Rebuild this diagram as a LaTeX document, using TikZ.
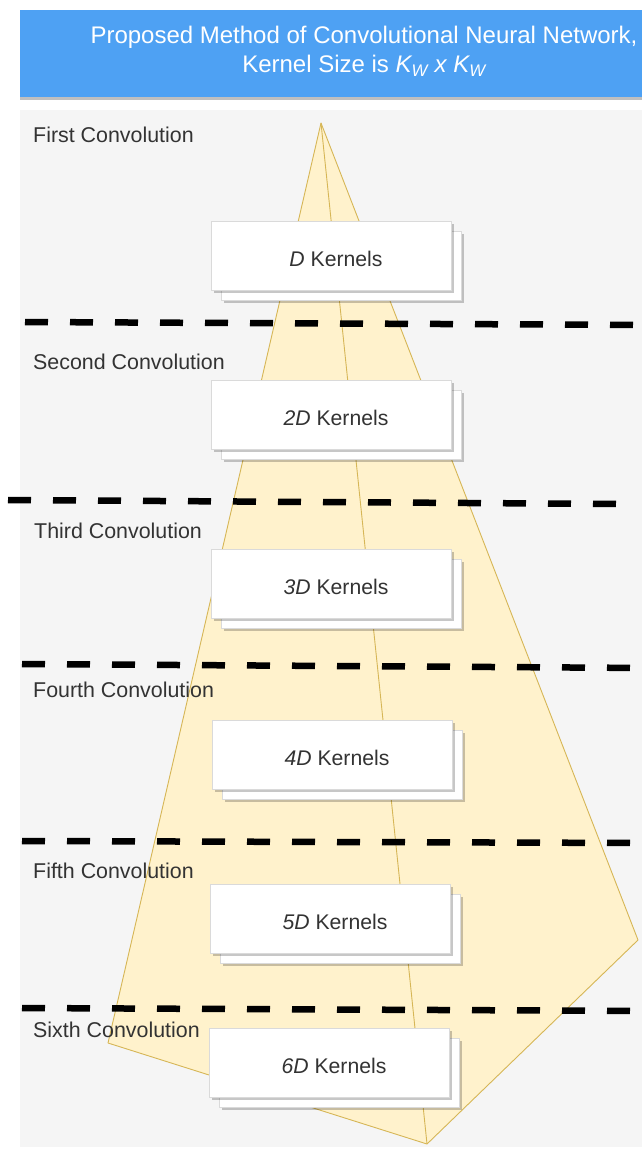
\documentclass[tikz,border=0pt]{standalone}
\usepackage{fontspec}
\setmainfont{Liberation Sans}
\definecolor{headerblue}{HTML}{4EA1F3}
\definecolor{panelgray}{HTML}{F5F5F5}
\definecolor{pyrfill}{HTML}{FFF2CC}
\definecolor{pyrline}{HTML}{D6B656}
\definecolor{textgray}{HTML}{333333}
\definecolor{boxedge}{HTML}{DADADA}
\newcommand{\kernelstack}[4]{%
  \fill[boxshadow] (#2+13,#3+13) rectangle ++(240,69);
  \node[kbox, anchor=north west] (#1back) at (#2+10,#3+10) {};
  \fill[boxshadow] (#2+3,#3+3) rectangle ++(240,69);
  \node[kbox, anchor=north west] (#1) at (#2,#3) {};
  \node[ktext] (#1label) at (#2+125,#3+37.5) {#4};
}
\begin{document}
\begin{tikzpicture}[x=1pt,y=-1pt,
  kbox/.style={draw=boxedge, fill=white, line width=0.8pt, minimum width=240pt, minimum height=69pt, inner sep=0pt},
  boxshadow/.style={fill=black, opacity=0.22},
  ktext/.style={text=textgray, font=\fontsize{21.2}{25}\selectfont, inner sep=0pt},
  convlabel/.style={text=textgray, font=\fontsize{21.4}{25}\selectfont, anchor=west, inner sep=0pt},
  sepline/.style={black, line width=6.5pt, dash pattern=on 23pt off 22pt},
  pyr/.style={fill=pyrfill, draw=pyrline, line width=0.9pt, line join=round},
]
\useasboundingbox (0,0) rectangle (641,1149);

% header band
\fill[black, opacity=0.25] (20,13) rectangle (660,100);
\fill[headerblue] (20,10) rectangle (660,97);
\node[text=white, align=center, font=\fontsize{24}{29}\selectfont, inner sep=0pt] (title) at (364,51)
  {Proposed Method of Convolutional Neural Network,\\
   Kernel Size is {\itshape K\textsubscript{W} x K\textsubscript{W}}};

% working area
\fill[panelgray] (20,110) rectangle (660,1147);

% growing receptive field
\coordinate (apex) at (321,123);
\coordinate (pleft) at (108,1043);
\coordinate (pbottom) at (427,1144);
\coordinate (pright) at (638,940);
\filldraw[pyr] (apex) -- (pleft) -- (pbottom) -- (pright) -- cycle;
\draw[pyr, fill=none] (apex) -- (pbottom);

% layer separators
\coordinate (s1a) at (25,322);  \coordinate (s1b) at (650,325);
\coordinate (s2a) at (8,500);   \coordinate (s2b) at (622,504);
\coordinate (s3a) at (22,664);  \coordinate (s3b) at (650,668);
\coordinate (s4a) at (22,841);  \coordinate (s4b) at (650,843);
\coordinate (s5a) at (22,1008); \coordinate (s5b) at (650,1011);
\draw[sepline] (s1a) -- (s1b);
\draw[sepline] (s2a) -- (s2b);
\draw[sepline] (s3a) -- (s3b);
\draw[sepline] (s4a) -- (s4b);
\draw[sepline] (s5a) -- (s5b);

% layer names
\node[convlabel] (c1) at (33,135)  {First Convolution};
\node[convlabel] (c2) at (33,362)  {Second Convolution};
\node[convlabel] (c3) at (34,531)  {Third Convolution};
\node[convlabel] (c4) at (33,690)  {Fourth Convolution};
\node[convlabel] (c5) at (33,871)  {Fifth Convolution};
\node[convlabel] (c6) at (33,1030) {Sixth Convolution};

% kernel stacks
\kernelstack{k1}{211}{221}{\textit{D} Kernels}
\kernelstack{k2}{211}{380}{\textit{2D} Kernels}
\kernelstack{k3}{211}{549}{\textit{3D} Kernels}
\kernelstack{k4}{212}{720}{\textit{4D} Kernels}
\kernelstack{k5}{210}{884}{\textit{5D} Kernels}
\kernelstack{k6}{209}{1028}{\textit{6D} Kernels}
\end{tikzpicture}
\end{document}
